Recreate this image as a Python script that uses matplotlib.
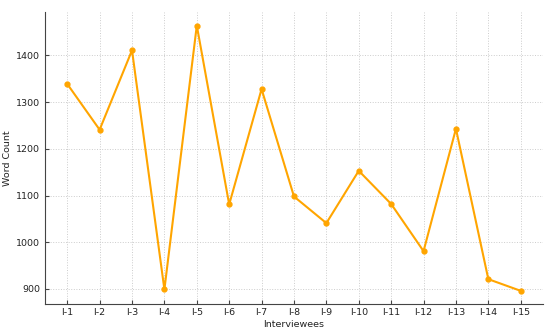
import matplotlib
matplotlib.use("Agg")
import matplotlib.pyplot as plt

interviewees = [f"I-{i}" for i in range(1, 16)]
word_counts = [1339, 1241, 1411, 899, 1464, 1081, 1328, 1098, 1041, 1153, 1082, 981, 1243, 921, 896]

fig, ax = plt.subplots(figsize=(5.5, 3.32), dpi=100)
fig.subplots_adjust(left=0.081, right=0.988, top=0.963, bottom=0.084)
ax.plot(interviewees, word_counts, color="#FFA500", marker="o", markersize=3.5, linewidth=1.5)
ax.set_xlabel("Interviewees", fontsize=6.8, labelpad=2, color="#222222")
ax.set_ylabel("Word Count", fontsize=6.8, labelpad=3, color="#222222")
ax.tick_params(labelsize=6.8, length=3, direction="in", pad=3, color="#444444", labelcolor="#222222")
ax.grid(True, linestyle=":", color="#cccccc", linewidth=0.7)
for s in ["top", "right"]:
    ax.spines[s].set_visible(False)
for s in ["left", "bottom"]:
    ax.spines[s].set_color("#444444")
fig.savefig("out.png", dpi=100)
